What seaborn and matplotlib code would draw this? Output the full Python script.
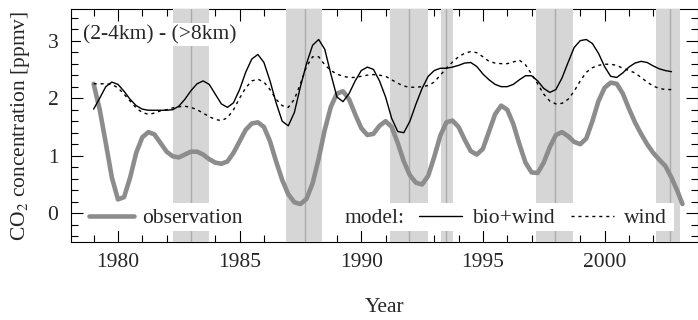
import numpy as np
import matplotlib
matplotlib.use("Agg")
import matplotlib.pyplot as plt
from matplotlib.patches import Rectangle
from matplotlib.ticker import MultipleLocator
import seaborn as sns

# sample grid (years) and values
model_years = np.arange(1979.0, 2002.76, 0.25)
obs_years = np.append(np.arange(1979.0, 2003.01, 0.25), 2003.2)

observation = [
    2.25, 1.80, 1.22, 0.62,
    0.24, 0.28, 0.62, 1.05,
    1.32, 1.41, 1.37, 1.22,
    1.07, 0.99, 0.97, 1.02,
    1.07, 1.07, 1.02, 0.94,
    0.88, 0.86, 0.90, 1.05,
    1.25, 1.45, 1.56, 1.58,
    1.50, 1.25, 0.90, 0.58,
    0.33, 0.19, 0.16, 0.25,
    0.52, 0.95, 1.45, 1.85,
    2.08, 2.12, 1.98, 1.72,
    1.48, 1.36, 1.38, 1.52,
    1.60, 1.50, 1.22, 0.90,
    0.66, 0.53, 0.50, 0.65,
    0.98, 1.35, 1.58, 1.61,
    1.50, 1.28, 1.08, 1.02,
    1.12, 1.42, 1.72, 1.87,
    1.80, 1.55, 1.20, 0.88,
    0.71, 0.70, 0.88, 1.15,
    1.36, 1.41, 1.34, 1.24,
    1.20, 1.30, 1.60, 1.95,
    2.18, 2.27, 2.25, 2.08,
    1.82, 1.58, 1.38, 1.20,
    1.05, 0.93, 0.82, 0.62,
    0.38, 0.16,
]

bio_wind = [
    1.81, 2.00, 2.20, 2.28,
    2.24, 2.12, 1.98, 1.87,
    1.81, 1.79, 1.79, 1.79,
    1.79, 1.80, 1.86, 1.98,
    2.13, 2.25, 2.30, 2.24,
    2.07, 1.90, 1.84, 1.92,
    2.15, 2.45, 2.68, 2.76,
    2.62, 2.30, 1.92, 1.60,
    1.52, 1.75, 2.20, 2.60,
    2.92, 3.02, 2.85, 2.42,
    2.02, 1.94, 2.08, 2.30,
    2.48, 2.54, 2.50, 2.30,
    2.02, 1.65, 1.42, 1.40,
    1.60, 1.90, 2.17, 2.38,
    2.48, 2.52, 2.52, 2.54,
    2.57, 2.61, 2.62, 2.55,
    2.42, 2.32, 2.24, 2.20,
    2.20, 2.24, 2.32, 2.39,
    2.39, 2.30, 2.17, 2.10,
    2.15, 2.35, 2.62, 2.88,
    3.00, 3.02, 2.95, 2.78,
    2.55, 2.38, 2.36, 2.44,
    2.54, 2.61, 2.64, 2.62,
    2.56, 2.51, 2.48, 2.46,
]

wind = [
    2.25, 2.25, 2.25, 2.24,
    2.18, 2.07, 1.95, 1.83,
    1.75, 1.72, 1.74, 1.78,
    1.80, 1.83, 1.85, 1.86,
    1.84, 1.80, 1.74, 1.68,
    1.63, 1.61, 1.66, 1.80,
    2.00, 2.18, 2.30, 2.33,
    2.28, 2.15, 1.98, 1.87,
    1.84, 1.98, 2.25, 2.55,
    2.72, 2.72, 2.58, 2.48,
    2.42, 2.38, 2.36, 2.36,
    2.38, 2.40, 2.41, 2.40,
    2.38, 2.32, 2.26, 2.21,
    2.19, 2.19, 2.20, 2.22,
    2.28, 2.40, 2.52, 2.63,
    2.72, 2.78, 2.81, 2.79,
    2.72, 2.64, 2.61, 2.60,
    2.60, 2.63, 2.66, 2.58,
    2.42, 2.25, 2.07, 1.95,
    1.90, 1.91, 1.98, 2.12,
    2.30, 2.45, 2.53, 2.57,
    2.59, 2.59, 2.57, 2.52,
    2.48, 2.44, 2.36, 2.28,
    2.21, 2.17, 2.15, 2.15,
]

# shaded periods (start, end, marked year)
band_start = [1982.26, 1986.90, 1991.20, 1993.27, 1997.20, 2002.10]
band_end = [1983.74, 1988.39, 1992.73, 1993.76, 1998.70, 2003.10]
band_mid = [1983.00, 1987.70, 1991.97, 1993.50, 1997.95, 2002.67]

sns.set_style("ticks")
plt.rcParams['font.family'] = ['Liberation Serif', 'DejaVu Serif']
plt.rcParams['mathtext.fontset'] = 'stix'
FS = 15.5

fig = plt.figure(figsize=(6.98, 3.2), dpi=100)
ax = fig.add_axes([71 / 698, 1 - 242 / 320, (697.5 - 71) / 698, 233 / 320])

for s, e, m in zip(band_start, band_end, band_mid):
    ax.axvspan(s, e, color='#d6d6d6', lw=0, zorder=2.6)
    ax.axvline(m, color='#ababab', lw=1.0, zorder=2.7)

sns.lineplot(x=obs_years, y=observation, color='#8c8c8c', lw=3.3, ax=ax, zorder=4)
obs_line = ax.lines[-1]
sns.lineplot(x=model_years, y=bio_wind, color='black', lw=1.0, ax=ax, zorder=4)
bio_line = ax.lines[-1]
sns.lineplot(x=model_years, y=wind, color='black', lw=1.0, ax=ax, zorder=4)
wind_line = ax.lines[-1]
wind_line.set_linestyle((0, (2.2, 2.8)))
for ln in (obs_line, bio_line, wind_line):
    ln.set_solid_joinstyle('round')
    ln.set_solid_capstyle('round')

ax.set_xlim(1978.07, 2003.82)
ax.set_ylim(-0.5, 3.55)
ax.xaxis.set_major_locator(MultipleLocator(5))
ax.xaxis.set_minor_locator(MultipleLocator(1))
ax.yaxis.set_major_locator(MultipleLocator(1))
ax.yaxis.set_minor_locator(MultipleLocator(0.2))
ax.tick_params(which='both', direction='in', top=True, right=True,
               labelsize=FS, color='black', width=0.8)
ax.tick_params(which='major', length=8.5)
ax.tick_params(which='minor', length=5)
ax.tick_params(axis='x', pad=8)
ax.tick_params(axis='y', pad=9)
for sp in ax.spines.values():
    sp.set_visible(True)
    sp.set_color('black')
    sp.set_linewidth(0.8)

ax.set_xlabel('Year', fontsize=FS, labelpad=19)
ax.set_ylabel('CO$_2$ concentration [ppmv]', fontsize=FS, labelpad=11)

ax.text(0.019, 0.89, '(2-4km) - (>8km)', transform=ax.transAxes, fontsize=FS,
        ha='left', va='center', zorder=6,
        bbox=dict(facecolor='white', edgecolor='none', pad=1.5))

# white boxes behind the legend rows
ax.add_patch(Rectangle((0.021, 0.047), 0.268, 0.12, transform=ax.transAxes,
                       facecolor='white', edgecolor='none', zorder=5.5))
ax.add_patch(Rectangle((0.434, 0.047), 0.528, 0.12, transform=ax.transAxes,
                       facecolor='white', edgecolor='none', zorder=5.5))

leg1 = ax.legend(handles=[obs_line], labels=['observation'], loc='center left',
                 bbox_to_anchor=(0.0218, 0.103), borderaxespad=0, borderpad=0.2,
                 handlelength=2.1, handletextpad=0.37, frameon=False, fontsize=FS)
leg1.set_zorder(6)
ax.add_artist(leg1)

ax.text(0.437, 0.103, 'model:', transform=ax.transAxes, fontsize=FS,
        ha='left', va='center', zorder=6)

leg2 = ax.legend(handles=[bio_line, wind_line], labels=['bio+wind', 'wind'], ncol=2,
                 loc='center left', bbox_to_anchor=(0.548, 0.103), borderaxespad=0,
                 borderpad=0.2, handlelength=2.0, handletextpad=0.46, columnspacing=0.8,
                 frameon=False, fontsize=FS)
leg2.set_zorder(6)

plt.savefig("out.png", dpi=100)
